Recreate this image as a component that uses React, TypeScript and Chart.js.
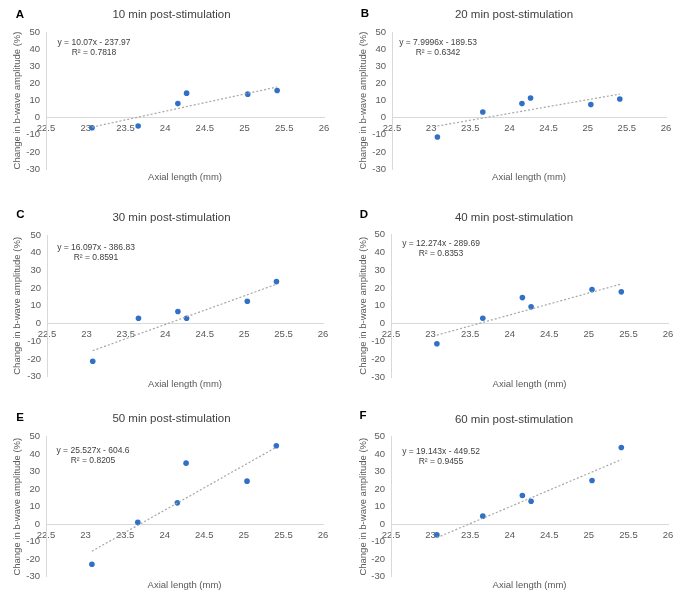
import React, { useEffect, useRef } from "react";
import { Chart, registerables } from "chart.js";

Chart.register(...registerables);

// ---------- data ----------
const axialLength = [23.08, 23.66, 24.16, 24.27, 25.04, 25.41];
const change10min = [-5.9, -4.9, 8.2, 14.3, 13.7, 15.8];
const change20min = [-11.3, 3.3, 8.2, 11.5, 7.6, 10.9];
const change30min = [-21.3, 3.0, 6.8, 3.0, 12.6, 23.7];
const change40min = [-11.2, 3.0, 14.6, 9.4, 19.1, 17.8];
const change50min = [-22.9, 1.1, 12.2, 34.9, 24.6, 44.8];
const change60min = [-6.1, 4.6, 16.4, 13.1, 25.0, 43.8];
const seriesValues = [change10min, change20min, change30min, change40min, change50min, change60min];

const panelLetters = ["A", "B", "C", "D", "E", "F"];
const panelTitles = [
  "10 min post-stimulation",
  "20 min post-stimulation",
  "30 min post-stimulation",
  "40 min post-stimulation",
  "50 min post-stimulation",
  "60 min post-stimulation",
];
const trendSlopes = [10.07, 7.9996, 16.097, 12.274, 25.527, 19.143];
const trendIntercepts = [-237.97, -189.53, -386.83, -289.69, -604.6, -449.52];
const equationLabels = [
  "y = 10.07x - 237.97",
  "y = 7.9996x - 189.53",
  "y = 16.097x - 386.83",
  "y = 12.274x - 289.69",
  "y = 25.527x - 604.6",
  "y = 19.143x - 449.52",
];
const r2Labels = ["R² = 0.7818", "R² = 0.6342", "R² = 0.8591", "R² = 0.8353", "R² = 0.8205", "R² = 0.9455"];

const xAxisMin = 22.5;
const xAxisMax = 26;
const xAxisStep = 0.5;
const yAxisMin = -30;
const yAxisMax = 50;
const yAxisStep = 10;
const xAxisTitle = "Axial length (mm)";
const yAxisTitle = "Change in b-wave amplitude (%)";

// ---------- layout (positions / styles only) ----------
type Layout = {
  x: number; y: number; w: number; h: number;
  area: [number, number, number, number]; // left, top, right, bottom
  titleY: number; xTitleY: number; yTitlePad: number;
  letter: [number, number]; eq: [number, number];
};
const layouts: Layout[] = [
  { x: 0, y: 0, w: 343, h: 200, area: [46, 32, 324, 169], titleY: 15, xTitleY: 177, yTitlePad: 12, letter: [20, 15], eq: [94, 43] },
  { x: 343, y: 0, w: 342, h: 200, area: [49, 32, 323, 169], titleY: 15, xTitleY: 177, yTitlePad: 15, letter: [22, 14], eq: [95, 43] },
  { x: 0, y: 200, w: 343, h: 200, area: [47, 35, 323, 176.7], titleY: 18, xTitleY: 184, yTitlePad: 12, letter: [20.5, 15], eq: [96, 48] },
  { x: 343, y: 200, w: 342, h: 200, area: [48, 34.3, 325, 177.3], titleY: 18, xTitleY: 184, yTitlePad: 15, letter: [21, 14.5], eq: [98, 44] },
  { x: 0, y: 400, w: 343, h: 203, area: [46, 36.7, 323, 176.7], titleY: 19, xTitleY: 185, yTitlePad: 12, letter: [20, 17.5], eq: [93, 51] },
  { x: 343, y: 400, w: 342, h: 203, area: [48, 36.7, 325, 176.7], titleY: 20, xTitleY: 185, yTitlePad: 15, letter: [20, 16], eq: [98, 52] },
];

const FONT = "'Liberation Sans', Arial, sans-serif";
const TICK_COLOR = "#595959";
const TEXT_COLOR = "#404040";
const AXIS_COLOR = "#d9d9d9";
const POINT_COLOR = "#3070c6";
const TREND_COLOR = "#a6a6a6";

const fmtTick = (v: any) => String(Number(Number(v).toFixed(2)));

function Panel({ index }: { index: number }) {
  const ref = useRef<HTMLCanvasElement>(null);
  const L = layouts[index];

  useEffect(() => {
    const canvas = ref.current;
    if (!canvas) return;
    const [aL, aT, aR, aB] = L.area;
    const values = seriesValues[index];
    const points = axialLength.map((x, i) => ({ x, y: values[i] }));
    const xFirst = Math.min(...axialLength);
    const xLast = Math.max(...axialLength);
    const trend = [
      { x: xFirst, y: trendSlopes[index] * xFirst + trendIntercepts[index] },
      { x: xLast, y: trendSlopes[index] * xLast + trendIntercepts[index] },
    ];

    const textPlugin = {
      id: "panelText" + index,
      afterDraw(chart: any) {
        const ctx = chart.ctx;
        const ca = chart.chartArea;
        ctx.save();
        ctx.textBaseline = "middle";
        ctx.fillStyle = "#000000";
        ctx.textAlign = "center";
        ctx.font = `bold 11.5px ${FONT}`;
        ctx.fillText(panelLetters[index], L.letter[0], L.letter[1]);
        ctx.fillStyle = TEXT_COLOR;
        ctx.font = `11.5px ${FONT}`;
        ctx.fillText(panelTitles[index], L.w / 2, L.titleY);
        ctx.fillStyle = TICK_COLOR;
        ctx.font = `9.5px ${FONT}`;
        ctx.fillText(xAxisTitle, (ca.left + ca.right) / 2, L.xTitleY);
        ctx.fillStyle = TEXT_COLOR;
        ctx.font = `8.5px ${FONT}`;
        ctx.fillText(equationLabels[index], L.eq[0], L.eq[1]);
        ctx.fillText(r2Labels[index], L.eq[0], L.eq[1] + 10);
        ctx.restore();
      },
    };

    const chart = new Chart(canvas, {
      type: "scatter",
      data: {
        datasets: [
          {
            type: "scatter",
            data: points,
            pointRadius: 2.8,
            pointHoverRadius: 2.8,
            pointBackgroundColor: POINT_COLOR,
            pointBorderWidth: 0,
            borderWidth: 0,
            order: 2,
          } as any,
          {
            type: "line",
            data: trend,
            borderColor: TREND_COLOR,
            borderWidth: 1.2,
            borderDash: [2, 2],
            pointRadius: 0,
            fill: false,
            order: 1,
          } as any,
        ],
      },
      options: {
        animation: false,
        responsive: false,
        events: [],
        layout: { padding: { left: 0, top: aT, right: L.w - aR, bottom: L.h - aB } },
        plugins: { legend: { display: false }, tooltip: { enabled: false }, title: { display: false } },
        scales: {
          x: {
            type: "linear",
            min: xAxisMin,
            max: xAxisMax,
            position: { y: 0 } as any,
            ticks: {
              stepSize: xAxisStep,
              padding: 5,
              maxRotation: 0,
              autoSkip: false,
              color: TICK_COLOR,
              font: { family: FONT, size: 9.5 },
              callback: fmtTick,
            },
            grid: { display: true, drawOnChartArea: false, drawTicks: false },
            border: { display: true, color: AXIS_COLOR, width: 1 },
            afterFit: (s: any) => { s.height = 0; },
          },
          y: {
            type: "linear",
            position: "left",
            min: yAxisMin,
            max: yAxisMax,
            ticks: {
              stepSize: yAxisStep,
              padding: 6,
              color: TICK_COLOR,
              font: { family: FONT, size: 9.5 },
              callback: fmtTick,
            },
            grid: { display: true, drawOnChartArea: false, drawTicks: false },
            border: { display: true, color: AXIS_COLOR, width: 1 },
            title: {
              display: true,
              text: yAxisTitle,
              color: TICK_COLOR,
              font: { family: FONT, size: 9.5 },
              padding: { top: L.yTitlePad, bottom: 0 },
            },
            afterFit: (s: any) => { s.width = aL; },
          },
        },
      } as any,
      plugins: [textPlugin],
    });
    return () => chart.destroy();
  }, [index]);

  return (
    <canvas
      ref={ref}
      width={L.w}
      height={L.h}
      style={{ position: "absolute", left: L.x, top: L.y, width: L.w, height: L.h, display: "block" }}
    />
  );
}

export default function App() {
  return (
    <div style={{ position: "absolute", left: 0, top: 0, width: 685, height: 603, background: "#ffffff" }}>
      {layouts.map((_, i) => (
        <Panel key={i} index={i} />
      ))}
    </div>
  );
}
